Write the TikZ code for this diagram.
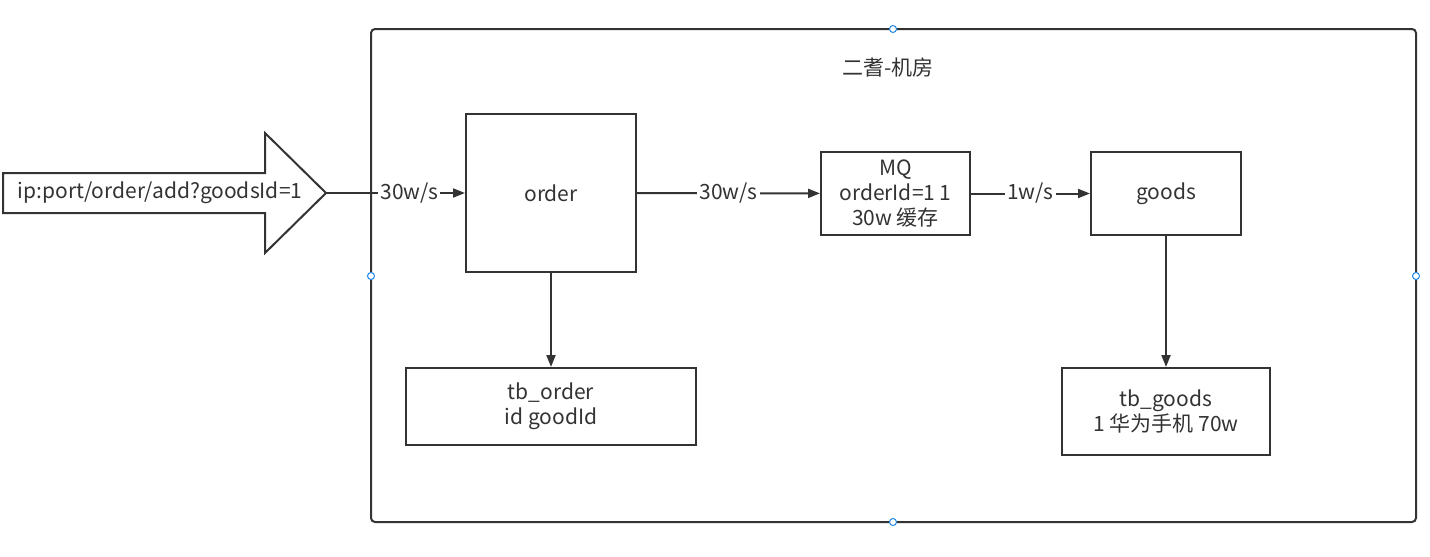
\documentclass[tikz,border=0pt]{standalone}
\usepackage{fontspec}
\setmainfont{Noto Sans CJK SC}
\usepackage{tikz}
\usetikzlibrary{positioning}
\usetikzlibrary{calc}
\usetikzlibrary{arrows.meta}

\definecolor{ink}{HTML}{333333}
\definecolor{handle}{HTML}{1E88E5}

\begin{document}
\begin{tikzpicture}[x=0.5pt,y=-0.5pt,
      ink, line width=1pt,
      every node/.style={text=ink,font=\fontsize{10.5}{12.5}\selectfont},
      elementblock/.style={draw,rectangle,align=center,inner sep=0pt},
      flow/.style={-{Triangle[length=6pt,width=4.5pt]}},
      rate/.style={fill=white,inner sep=1pt},
      grip/.style={circle,draw=handle,fill=white,line width=0.5pt,minimum size=3.5pt,inner sep=0pt}]
    \useasboundingbox (0,0) rectangle (1430,557);

    % Room
    \draw[rounded corners=2pt] (371,29) rectangle (1416,522);
    \node at (888,68) (room) {二耆-机房};

    % Request arrow
    \draw (3,173) -- (265,173) -- (265,133) -- (326,193) -- (265,253) -- (265,213) -- (3,213) -- cycle;
    \node at (160,193) (request) {ip:port/order/add?goodsId=1};
    \coordinate (tip) at (326,193);

    % Blocks
    \node[elementblock,minimum width=85pt,minimum height=79pt]    at (551,193)     (order)   {order};
    \node[elementblock,minimum width=74.5pt,minimum height=41.5pt] at (895.5,193.5) (mq)      {MQ\\orderId=1 1\\30w 缓存};
    \node[elementblock,minimum width=75pt,minimum height=41.5pt]  at (1166,193.5)  (goods)   {goods};
    \node[elementblock,minimum width=145pt,minimum height=38.5pt] at (551,406.5)   (tborder) {tb\_order\\id goodId};
    \node[elementblock,minimum width=104pt,minimum height=43.5pt] at (1166,411.5)  (tbgoods) {tb\_goods\\1 华为手机 70w};

    % Arrows
    \draw[flow] (tip) -- node[rate,pos=0.6] {30w/s} (order);
    \draw[flow] (order) -- node[rate] {30w/s} (mq);
    \draw[flow] (mq) -- node[rate] {1w/s} (goods);
    \draw[flow] (order) -- (tborder);
    \draw[flow] (goods.south -| tbgoods.north) -- (tbgoods);

    % Handles
    \node[grip] at (893,29)   (gtop)    {};
    \node[grip] at (371,276)  (gleft)   {};
    \node[grip] at (1416,276) (gright)  {};
    \node[grip] at (893,522)  (gbottom) {};
  \end{tikzpicture}
\end{document}
